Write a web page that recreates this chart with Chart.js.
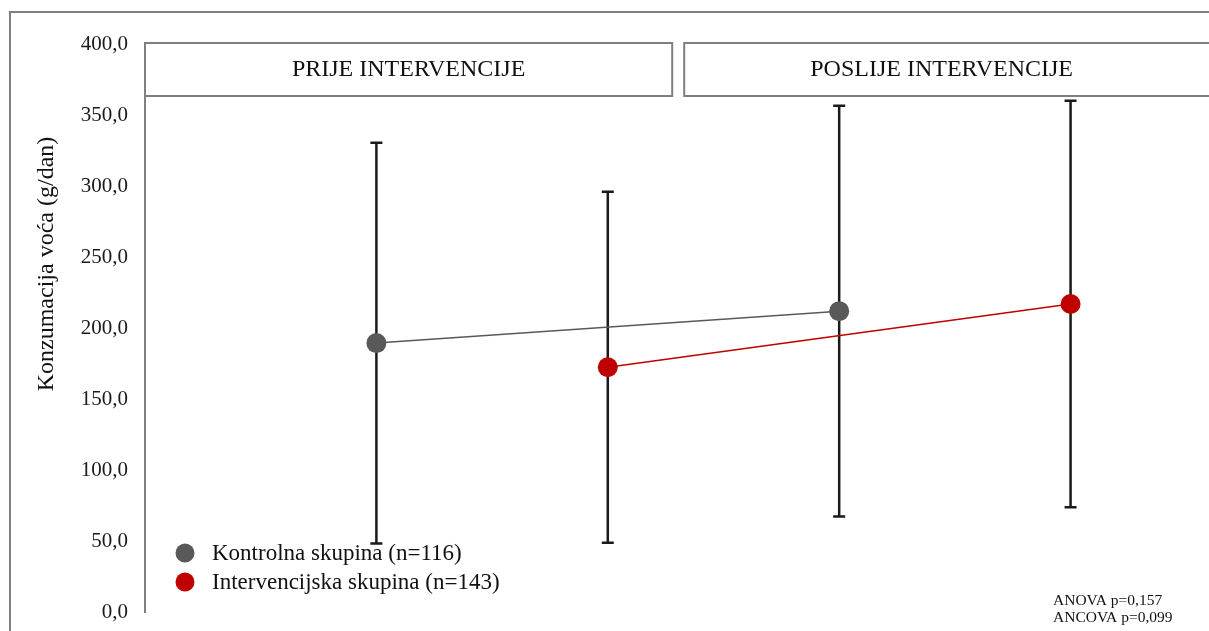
<!DOCTYPE html>
<html>
<head>
<meta charset="utf-8">
<script src="https://cdn.jsdelivr.net/npm/chart.js@4"></script>
<style>
  html, body { margin: 0; padding: 0; background: #ffffff; overflow: hidden; }
  #wrap { width: 1209px; height: 631px; position: relative; overflow: hidden; }
</style>
</head>
<body>
<div id="wrap"><canvas id="c" width="1209" height="634"></canvas></div>
<script>
// ---- data ----
const panelLabels = ['PRIJE INTERVENCIJE', 'POSLIJE INTERVENCIJE'];
const seriesLabels = ['Kontrolna skupina (n=116)', 'Intervencijska skupina (n=143)'];
const controlX = [1, 3];
const controlMeans = [189.5, 212.0];
const controlSD = [141.0, 144.5];
const interventionX = [2, 4];
const interventionMeans = [172.5, 217.0];
const interventionSD = [123.5, 143.0];
const yTicks = [0, 50, 100, 150, 200, 250, 300, 350, 400];
const yTitle = 'Konzumacija voća (g/dan)';
const statsText = ['ANOVA p=0,157', 'ANCOVA p=0,099'];

const GRAY = '#595959';
const RED = '#c00000';
const FONT = '"Liberation Serif", "Times New Roman", serif';

function toPoints(xs, ys, sds) {
  return xs.map((x, i) => ({ x: x, y: ys[i], sd: sds[i] }));
}

const decorPlugin = {
  id: 'decor',
  beforeDraw(chart) {
    const ctx = chart.ctx;
    ctx.save();
    ctx.strokeStyle = '#7f7f7f';
    ctx.lineWidth = 2;
    ctx.strokeRect(10, 12, chart.width + 20, chart.height + 20);
    ctx.restore();
  },
  beforeDatasetsDraw(chart) {
    const ctx = chart.ctx;
    const ys = chart.scales.y;
    ctx.save();
    ctx.strokeStyle = '#1a1a1a';
    ctx.lineWidth = 2.5;
    chart.data.datasets.forEach((ds, di) => {
      const meta = chart.getDatasetMeta(di);
      meta.data.forEach((pt, i) => {
        const d = ds.data[i];
        const top = ys.getPixelForValue(d.y + d.sd);
        const bot = ys.getPixelForValue(d.y - d.sd);
        const x = pt.x;
        ctx.beginPath();
        ctx.moveTo(x, top); ctx.lineTo(x, bot);
        ctx.moveTo(x - 6, top); ctx.lineTo(x + 6, top);
        ctx.moveTo(x - 6, bot); ctx.lineTo(x + 6, bot);
        ctx.stroke();
      });
    });
    ctx.restore();
  },
  afterDraw(chart) {
    const ctx = chart.ctx;
    const a = chart.chartArea;
    const xs = chart.scales.x;
    ctx.save();
    const split = xs.getPixelForValue(2.3);
    const boxTop = a.top - 1;
    const boxH = 53;
    ctx.fillStyle = '#ffffff';
    ctx.strokeStyle = '#7f7f7f';
    ctx.lineWidth = 2;
    const boxes = [[a.left, split - 5], [split + 7, a.right + 30]];
    boxes.forEach((b) => {
      ctx.fillRect(b[0], boxTop, b[1] - b[0], boxH);
      ctx.strokeRect(b[0], boxTop, b[1] - b[0], boxH);
    });
    ctx.fillStyle = '#111111';
    ctx.font = '24px ' + FONT;
    ctx.textAlign = 'center';
    ctx.textBaseline = 'middle';
    ctx.fillText(panelLabels[0], (boxes[0][0] + boxes[0][1]) / 2, boxTop + boxH / 2);
    ctx.fillText(panelLabels[1], (boxes[1][0] + a.right) / 2, boxTop + boxH / 2);

    ctx.save();
    ctx.translate(47, 264);
    ctx.rotate(-Math.PI / 2);
    ctx.font = '24px ' + FONT;
    ctx.fillStyle = '#111111';
    ctx.textAlign = 'center';
    ctx.textBaseline = 'middle';
    ctx.fillText(yTitle, 0, 0);
    ctx.restore();

    const colors = [GRAY, RED];
    ctx.font = '23px ' + FONT;
    ctx.textAlign = 'left';
    ctx.textBaseline = 'middle';
    seriesLabels.forEach((lab, i) => {
      const cy = 553 + i * 29;
      ctx.beginPath();
      ctx.fillStyle = colors[i];
      ctx.arc(185, cy, 9.5, 0, Math.PI * 2);
      ctx.fill();
      ctx.fillStyle = '#111111';
      ctx.fillText(lab, 212, cy + 1);
    });

    ctx.font = '15.5px ' + FONT;
    ctx.textBaseline = 'alphabetic';
    ctx.fillStyle = '#111111';
    statsText.forEach((t, i) => ctx.fillText(t, 1053, 605 + i * 17));
    ctx.restore();
  }
};

new Chart(document.getElementById('c'), {
  type: 'line',
  data: {
    datasets: [
      {
        label: seriesLabels[0],
        data: toPoints(controlX, controlMeans, controlSD),
        borderColor: GRAY,
        backgroundColor: GRAY,
        borderWidth: 1.5,
        pointRadius: 10,
        pointBorderWidth: 0,
        pointBackgroundColor: GRAY,
        tension: 0
      },
      {
        label: seriesLabels[1],
        data: toPoints(interventionX, interventionMeans, interventionSD),
        borderColor: RED,
        backgroundColor: RED,
        borderWidth: 1.5,
        pointRadius: 10,
        pointBorderWidth: 0,
        pointBackgroundColor: RED,
        tension: 0
      }
    ]
  },
  options: {
    responsive: false,
    animation: false,
    devicePixelRatio: 1,
    layout: { padding: { top: 44, bottom: 4, left: 0, right: 0 } },
    plugins: { legend: { display: false }, tooltip: { enabled: false } },
    scales: {
      x: {
        type: 'linear',
        min: 0,
        max: 4.555,
        display: false
      },
      y: {
        min: 0,
        max: 400,
        afterFit(scale) { scale.width = 145; },
        afterBuildTicks(scale) { scale.ticks = yTicks.map(v => ({ value: v })); },
        grid: { display: false },
        border: { display: true, color: '#7f7f7f', width: 2 },
        ticks: {
          padding: 9,
          color: '#1a1a1a',
          font: { family: FONT, size: 21 },
          callback: v => v.toFixed(1).replace('.', ',')
        }
      }
    }
  },
  plugins: [decorPlugin]
});
</script>
</body>
</html>
